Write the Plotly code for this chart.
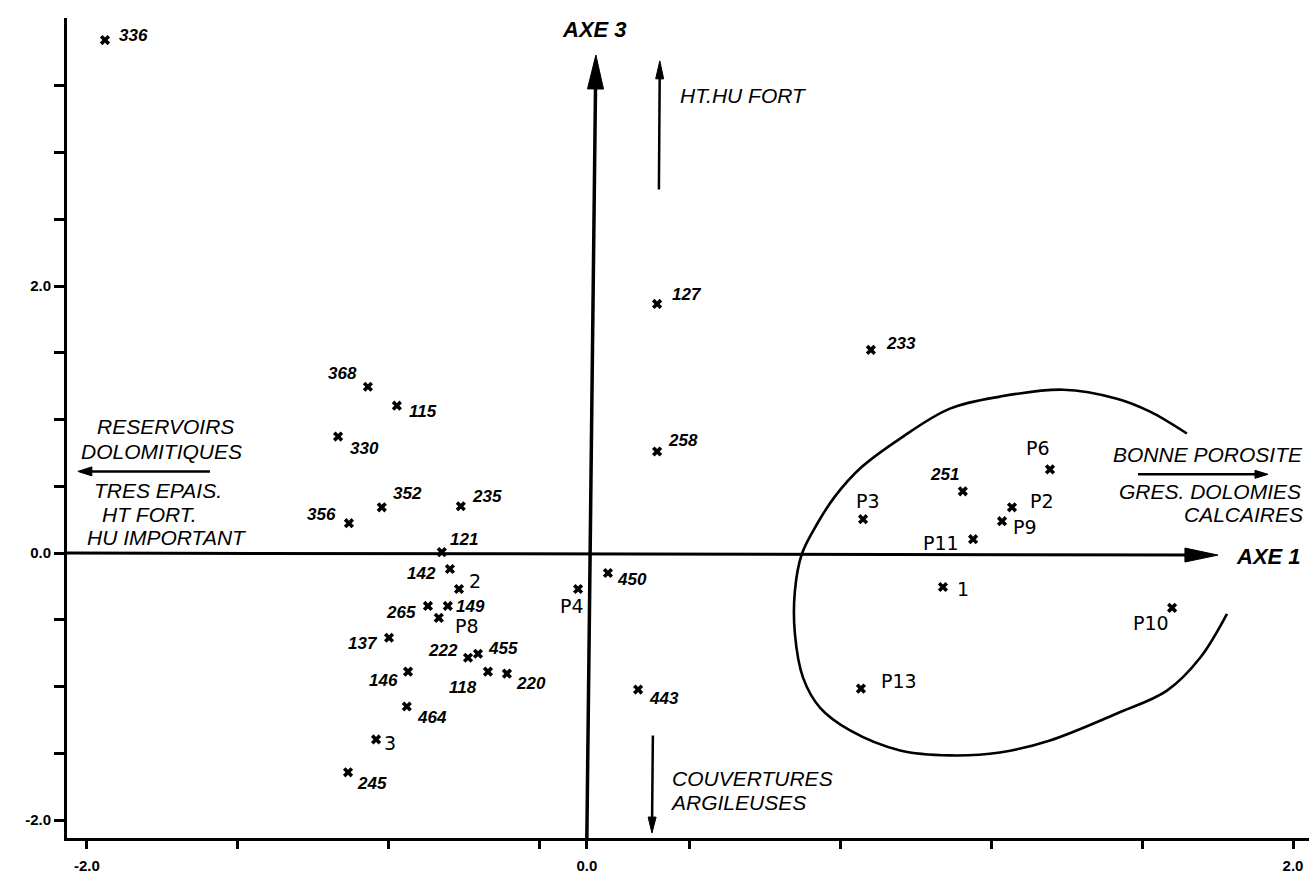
import math
import plotly.graph_objects as go

# ---------------- data ----------------
point_labels = ["336", "368", "115", "330", "352", "356", "235", "121", "142", "2",
                "265", "149", "P8", "137", "222", "455", "146", "118", "220", "464",
                "3", "245", "127", "258", "233", "450", "P4", "443", "P3", "P13",
                "251", "P6", "P2", "P9", "P11", "1", "P10"]
point_x = [-1.940, -1.068, -0.972, -1.167, -1.022, -1.131, -0.760, -0.823, -0.796, -0.766,
           -0.869, -0.803, -0.833, -0.998, -0.736, -0.703, -0.935, -0.670, -0.607, -0.939,
           -1.041, -1.134, -0.109, -0.109, 0.600, -0.272, -0.371, -0.172, 0.574, 0.567,
           0.905, 1.194, 1.068, 1.035, 0.939, 0.839, 1.599]
point_y = [3.843, 1.246, 1.104, 0.873, 0.343, 0.224, 0.351, 0.007, -0.119, -0.269,
           -0.396, -0.396, -0.485, -0.634, -0.784, -0.754, -0.888, -0.888, -0.903, -1.149,
           -1.396, -1.642, 1.866, 0.761, 1.522, -0.149, -0.269, -1.022, 0.254, -1.015,
           0.463, 0.627, 0.343, 0.239, 0.104, -0.254, -0.410]
handwritten = {"2", "3", "1", "P8", "P4", "P3", "P13", "P6", "P2", "P9", "P11", "P10"}

# hand-drawn enclosing curve
curve_x = [1.648, 1.526, 1.416, 1.237, 1.028, 0.862, 0.697, 0.564, 0.481, 0.421, 0.371,
           0.348, 0.348, 0.375, 0.431, 0.531, 0.697, 0.862, 1.028, 1.194, 1.416, 1.582,
           1.692, 1.781]
curve_y = [0.896, 1.060, 1.157, 1.224, 1.172, 1.082, 0.858, 0.634, 0.425, 0.216, -0.007,
           -0.284, -0.604, -0.933, -1.157, -1.328, -1.478, -1.515, -1.493, -1.403, -1.201,
           -1.030, -0.784, -0.455]

x_ticks = [-2.0, -1.5, -1.0, -0.5, 0.0, 0.5, 1.0, 1.5, 2.0]
x_tick_text = ["-2.0", "", "", "", "", "", "", "", "2.0"]
axe3_x = -0.342           # position of the drawn AXE 3 (labelled 0.0)
y_ticks = [-2.0, -1.5, -1.0, -0.5, 0.0, 0.5, 1.0, 1.5, 2.0, 2.5, 3.0, 3.5]
y_tick_text = ["-2.0", "", "", "", "0.0", "", "", "", "2.0", "", "", ""]

# ---------------- styling / layout helpers ----------------
label_offsets = {
    "336": (29, 5), "368": (-25, 13), "115": (26, -6), "330": (26, -12),
    "352": (26, 14), "356": (-27, 9), "235": (26, 10), "121": (22, 13),
    "142": (-28, -5), "2": (16, 8), "265": (-27, -7), "149": (23, -1),
    "P8": (28, -8), "137": (-26, -6), "222": (-25, 7), "455": (25, 5),
    "146": (-25, -9), "118": (-25, -16), "220": (24, -10), "464": (25, -11),
    "3": (14, -4), "245": (24, -11), "127": (30, 9), "258": (26, 11),
    "233": (30, 6), "450": (24, -7), "P4": (-6, -17), "443": (26, -9),
    "P3": (5, 18), "P13": (38, 8), "251": (-18, 17), "P6": (-12, 21),
    "P2": (30, 6), "P9": (23, -6), "P11": (-32, -4), "1": (20, -2),
    "P10": (-21, -15),
}

W, H = 1309, 874
ML, MR, MT, MB = 67, 0, 18, 33
X_RANGE = [-2.066, 2.053]
Y_RANGE = [-2.134, 4.008]
PX_X = (W - ML - MR) / (X_RANGE[1] - X_RANGE[0])
PX_Y = (H - MT - MB) / (Y_RANGE[1] - Y_RANGE[0])

fig = go.Figure()

fig.add_trace(go.Scatter(
    x=curve_x, y=curve_y, mode="lines", line=dict(color="black", width=2.6, shape="spline"),
    hoverinfo="skip", showlegend=False))

fig.add_trace(go.Scatter(
    x=point_x, y=point_y, mode="markers", text=point_labels,
    marker=dict(symbol="x", size=9, color="black", line=dict(width=0)),
    showlegend=False))

annotations = []
for lab, xv, yv in zip(point_labels, point_x, point_y):
    dx, dy = label_offsets.get(lab, (20, 0))
    if lab in handwritten:
        font = dict(family="DejaVu Sans", size=19, color="black")
    else:
        font = dict(family="Liberation Sans", size=17, color="black", style="italic", weight="bold")
    annotations.append(dict(x=xv, y=yv, xref="x", yref="y", text=lab, showarrow=False,
                            xshift=dx, yshift=dy, font=font))

txt_font = dict(family="Liberation Sans", size=21, color="black", style="italic")
axe_font = dict(family="Liberation Sans", size=22, color="black", style="italic", weight="bold")

annotations += [
    dict(x=-0.318, y=3.925, text="AXE 3", font=axe_font),
    dict(x=1.805, y=-0.022, text="AXE 1", font=axe_font, xanchor="left"),
    dict(x=-0.040, y=3.425, text="HT.HU FORT", font=txt_font, xanchor="left"),
    dict(x=-0.066, y=-1.687, text="COUVERTURES", font=txt_font, xanchor="left"),
    dict(x=-0.073, y=-1.866, text="ARGILEUSES", font=txt_font, xanchor="left"),
    dict(x=-1.741, y=0.948, text="RESERVOIRS", font=txt_font),
    dict(x=-1.751, y=0.761, text="DOLOMITIQUES", font=txt_font),
    dict(x=-1.765, y=0.470, text="TRES EPAIS.", font=txt_font),
    dict(x=-1.794, y=0.291, text="HT FORT.", font=txt_font),
    dict(x=-1.735, y=0.119, text="HU IMPORTANT", font=txt_font),
    dict(x=1.718, y=0.739, text="BONNE POROSITE", font=txt_font),
    dict(x=2.033, y=0.463, text="GRES. DOLOMIES", font=txt_font, xanchor="right"),
    dict(x=2.040, y=0.291, text="CALCAIRES", font=txt_font, xanchor="right"),
]
for a in annotations:
    a.setdefault("xref", "x")
    a.setdefault("yref", "y")
    a.setdefault("showarrow", False)

shapes = []


def arrow(x0, y0, x1, y1, width, head_len, head_w):
    dxp = (x1 - x0) * PX_X
    dyp = (y1 - y0) * PX_Y
    n = math.hypot(dxp, dyp)
    ux, uy = dxp / n, dyp / n
    px, py = -uy, ux
    bx, by = -head_len * ux, -head_len * uy
    # shaft stops inside the head
    sx = x1 - (head_len * 0.5) * ux / PX_X
    sy = y1 - (head_len * 0.5) * uy / PX_Y
    shapes.append(dict(type="line", xref="x", yref="y", x0=x0, y0=y0, x1=sx, y1=sy,
                       line=dict(color="black", width=width)))
    pts = [(0, 0), (bx + px * head_w / 2, by + py * head_w / 2),
           (bx - px * head_w / 2, by - py * head_w / 2)]
    path = "M {:.2f},{:.2f} L {:.2f},{:.2f} L {:.2f},{:.2f} Z".format(*pts[0], *pts[1], *pts[2])
    shapes.append(dict(type="path", xref="x", yref="y", xsizemode="pixel", ysizemode="pixel",
                       xanchor=x1, yanchor=y1, path=path, fillcolor="black",
                       line=dict(color="black", width=1)))


arrow(-0.342, -2.134, -0.312, 3.731, 3.5, 34, 16)     # AXE 3
arrow(-2.066, 0.0, 1.751, -0.015, 3, 33, 14)          # AXE 1
arrow(-0.103, 2.724, -0.100, 3.687, 2.5, 18, 8)       # HT.HU FORT
arrow(-0.123, -1.366, -0.126, -2.097, 2.5, 16, 8)     # COUVERTURES
arrow(-1.592, 0.612, -2.030, 0.612, 2.5, 14, 9)       # RESERVOIRS
arrow(1.486, 0.590, 1.917, 0.590, 2.5, 13, 8)         # BONNE POROSITE

tick_font = dict(family="Liberation Sans", size=15, color="black", weight="bold")

fig.update_layout(
    width=W, height=H,
    margin=dict(l=ML, r=MR, t=MT, b=MB),
    plot_bgcolor="white", paper_bgcolor="white",
    showlegend=False,
    annotations=annotations,
    shapes=shapes,
    xaxis=dict(range=X_RANGE, tickvals=x_ticks + [axe3_x], ticktext=x_tick_text + ["0.0"],
               ticks="outside", ticklen=8, tickwidth=3, tickcolor="black",
               showline=True, linewidth=3, linecolor="black", showgrid=False,
               zeroline=False, tickfont=tick_font, ticklabelstandoff=4, fixedrange=True),
    yaxis=dict(range=Y_RANGE, tickvals=y_ticks, ticktext=y_tick_text,
               ticks="outside", ticklen=10, tickwidth=3, tickcolor="black",
               showline=True, linewidth=3, linecolor="black", showgrid=False,
               zeroline=False, tickfont=tick_font, fixedrange=True),
)

fig.write_html("out.html", config={"displayModeBar": False},
               post_script="document.body.style.margin='0px';")
